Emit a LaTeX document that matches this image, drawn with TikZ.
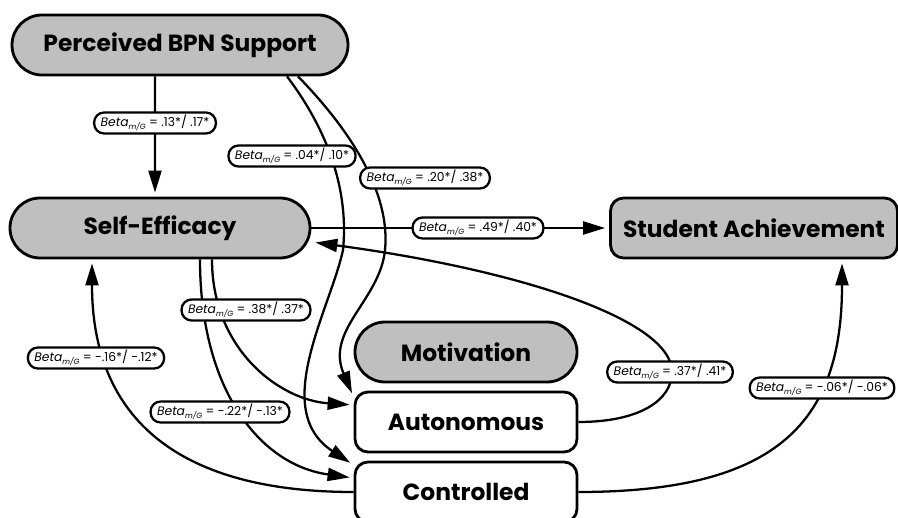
\documentclass[tikz,border=0pt]{standalone}
\usepackage{fontspec}
\setmainfont{Poppins}
\usetikzlibrary{arrows.meta}

\tikzset{
  box/.style={draw, line width=1.6pt, minimum height=12mm, align=center,
    font=\fontsize{13.3}{15}\selectfont\bfseries},
  factor/.style={box, fill=black!25, rounded corners=6mm},
  level/.style={box, fill=white, rounded corners=2.6mm, minimum width=44.4mm},
  beta/.style={draw, fill=white, line width=1.3pt, rounded corners=2mm,
    minimum height=4.2mm, inner xsep=1.3mm, inner ysep=0pt,
    font=\fontsize{7}{8}\selectfont},
  link/.style={line width=1.3pt, shorten >=0.8mm,
    -{Triangle[length=4.4mm,width=2.6mm]}},
}
\newcommand{\betam}[1]{\textit{Beta}\raisebox{-0.35ex}{\fontsize{4.3}{5}\selectfont\textit{m/G}} = #1}

\begin{document}
\begin{tikzpicture}[x=0.2mm, y=-0.2mm]
        \useasboundingbox (0,0) rectangle (898,518);
        \node[factor, minimum width=67.2mm] (bpn) at (180,45)  {Perceived BPN Support};
        \node[factor, minimum width=60mm]   (se)  at (160,228) {Self-Efficacy};
        \node[box, fill=black!25, rounded corners=2.6mm, minimum width=57.4mm] (sa) at (754,228) {Student Achievement};
        \node[factor, minimum width=44.4mm] (mot) at (466,352) {Motivation};
        \node[level] (auto) at (466,422) {Autonomous};
        \node[level] (ctrl) at (466,492) {Controlled};

        \draw[link] ([xshift=-5mm]bpn.south) -- ([xshift=-1mm]se.north);
        \draw[link] ([xshift=21.4mm]bpn.south) .. controls (335,140) and (348,200) .. (343,250)
            .. controls (330,310) and (270,410) .. ([yshift=5.4mm]ctrl.west);
        \draw[link] ([xshift=23.6mm]bpn.south) .. controls (360,140) and (390,200) .. (385,250)
            .. controls (380,300) and (325,330) .. ([yshift=5mm]auto.west);
        \draw[link] (se.east) -- (sa.west);
        \draw[link] ([xshift=10.4mm]se.south) .. controls (212,350) and (280,400) .. ([yshift=3.4mm]auto.west);
        \draw[link] ([xshift=8mm]se.south) .. controls (200,390) and (260,465) .. ([yshift=2.8mm]ctrl.west);
        \draw[link] (ctrl.west) .. controls (180,492) and (92,420) .. ([xshift=-13.6mm]se.south);
        \draw[link] (auto.east) .. controls (640,422) and (672,400) .. (672,372)
            .. controls (672,320) and (520,270) .. ([yshift=-2.8mm]se.east);
        \draw[link] (ctrl.east) .. controls (780,492) and (842,420) .. ([xshift=17.6mm]sa.south);

        \node[beta] (b1) at (155,123) {\betam{.13*/ .17*}};
        \node[beta] (b2) at (292,156) {\betam{.04*/ .10*}};
        \node[beta] (b3) at (425,178) {\betam{.20*/ .38*}};
        \node[beta] (b4) at (478,228) {\betam{.49*/ .40*}};
        \node[beta] (b5) at (246,310) {\betam{.38*/ .37*}};
        \node[beta] (b6) at (96,358)  {\betam{-.16*/ -.12*}};
        \node[beta] (b7) at (220,412) {\betam{-.22*/ -.13*}};
        \node[beta] (b8) at (670,372) {\betam{.37*/ .41*}};
        \node[beta] (b9) at (822,388) {\betam{-.06*/ -.06*}};
\end{tikzpicture}
\end{document}
